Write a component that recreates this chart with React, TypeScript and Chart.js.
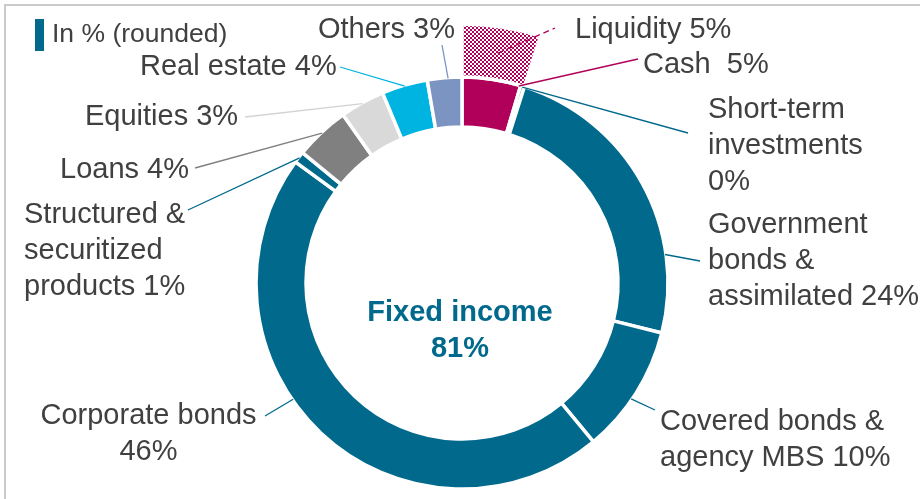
import React, { useEffect, useRef } from 'react';
import { Chart, registerables } from 'chart.js';
Chart.register(...registerables);

// ---------- data ----------
const CATEGORIES = [
  'Cash',
  'Short-term investments',
  'Government bonds & assimilated',
  'Covered bonds & agency MBS',
  'Corporate bonds',
  'Structured & securitized products',
  'Loans',
  'Equities',
  'Real estate',
  'Others',
];
const SHARES = [4.6, 0.3, 24.0, 10.1, 46.0, 0.9, 4.3, 3.5, 3.6, 2.7];
const SHARE_LABELS = ['5%', '0%', '24%', '10%', '46%', '1%', '4%', '3%', '4%', '3%'];
const LIQUIDITY_PARTS = ['Liquidity', ''];
const LIQUIDITY_SHARES = [4.9, 95.1];
const LIQUIDITY_LABEL = '5%';
const CENTER_TITLE = 'Fixed income';
const CENTER_VALUE = '81%';
const UNIT_NOTE = 'In % (rounded)';

// label texts (line broken as in the picture)
const LABEL_LINES: string[][] = [
  ['Cash  ' + SHARE_LABELS[0]],
  ['Short-term', 'investments', SHARE_LABELS[1]],
  ['Government', 'bonds &', 'assimilated ' + SHARE_LABELS[2]],
  ['Covered bonds &', 'agency MBS ' + SHARE_LABELS[3]],
  ['Corporate bonds', SHARE_LABELS[4]],
  ['Structured &', 'securitized', 'products ' + SHARE_LABELS[5]],
  ['Loans ' + SHARE_LABELS[6]],
  ['Equities ' + SHARE_LABELS[7]],
  ['Real estate ' + SHARE_LABELS[8]],
  ['Others ' + SHARE_LABELS[9]],
];

// ---------- styles / layout ----------
const TEAL = '#00698c';
const MAGENTA = '#b0005a';
const SLICE_COLORS = [MAGENTA, TEAL, TEAL, TEAL, TEAL, TEAL, '#808080', '#d9d9d9', '#00b4e1', '#7b94c2'];
const LINE_COLORS = [MAGENTA, TEAL, TEAL, TEAL, TEAL, TEAL, '#7f7f7f', '#d3d3d3', '#00b4e1', '#7b94c2'];
const TEXT_COLOR = '#404040';
const FONT = '"Liberation Sans", Arial, sans-serif';
const FONT_SIZE = 29;
const LINE_H = 36;

const W = 920;
const H = 499;
const CANVAS_H = 600;
const CANVAS_TOP = -17;

// per label: text x, first line y, align, leader end point, anchor fraction within slice
const LABEL_LAYOUT = [
  { x: 643, y: 65, align: 'left', end: [638, 59], frac: 0.97 },
  { x: 708, y: 110, align: 'left', end: [688, 133], frac: 0.5 },
  { x: 708, y: 225, align: 'left', end: [700, 261], frac: 0.745 },
  { x: 660, y: 422, align: 'left', end: [655, 410], frac: 0.56 },
  { x: 148.5, y: 416, align: 'center', end: [265, 416], frac: 0.574 },
  { x: 24, y: 215, align: 'left', end: [188, 210], frac: 0.5 },
  { x: 60, y: 170, align: 'left', end: [195, 168], frac: 0.5 },
  { x: 85, y: 117, align: 'left', end: [245, 117], frac: 0.5 },
  { x: 140, y: 67, align: 'left', end: [340, 67], frac: 0.5 },
  { x: 318, y: 30, align: 'left', end: [442, 45], frac: 0.6 },
];
const LIQ_LAYOUT = { x: 575, y: 30, end: [555, 28] };

function makePattern(): CanvasPattern | string {
  const c = document.createElement('canvas');
  c.width = 4;
  c.height = 4;
  const g = c.getContext('2d');
  if (!g) return MAGENTA;
  g.fillStyle = '#ffffff';
  g.fillRect(0, 0, 4, 4);
  g.fillStyle = MAGENTA;
  g.fillRect(0, 0, 2, 2);
  g.fillRect(2, 2, 2, 2);
  return g.createPattern(c, 'repeat') || MAGENTA;
}

const labelsPlugin = {
  id: 'pieLabels',
  afterDatasetsDraw(chart: any) {
    const ctx: CanvasRenderingContext2D = chart.ctx;
    const arcs = chart.getDatasetMeta(1).data;
    const liq = chart.getDatasetMeta(0).data[0];
    ctx.save();
    ctx.translate(0, -CANVAS_TOP);

    // leader lines
    ctx.lineWidth = 1.3;
    LABEL_LAYOUT.forEach((l, i) => {
      const p = arcs[i].getProps(['x', 'y', 'startAngle', 'endAngle', 'outerRadius'], true);
      const a = p.startAngle + (p.endAngle - p.startAngle) * l.frac;
      const sx = p.x + Math.cos(a) * (p.outerRadius - 1);
      const sy = p.y + Math.sin(a) * (p.outerRadius - 1) + CANVAS_TOP;
      ctx.strokeStyle = LINE_COLORS[i];
      ctx.setLineDash([]);
      ctx.beginPath();
      ctx.moveTo(sx, sy);
      ctx.lineTo(l.end[0], l.end[1]);
      ctx.stroke();
    });
    // liquidity dashed line
    const cp = liq.getCenterPoint(true);
    ctx.strokeStyle = MAGENTA;
    ctx.setLineDash([6, 4]);
    ctx.beginPath();
    ctx.moveTo(cp.x, cp.y + CANVAS_TOP);
    ctx.lineTo(LIQ_LAYOUT.end[0], LIQ_LAYOUT.end[1]);
    ctx.stroke();
    ctx.setLineDash([]);

    // texts
    ctx.fillStyle = TEXT_COLOR;
    ctx.font = `${FONT_SIZE}px ${FONT}`;
    ctx.textBaseline = 'middle';
    LABEL_LAYOUT.forEach((l, i) => {
      ctx.textAlign = l.align as CanvasTextAlign;
      LABEL_LINES[i].forEach((t, k) => ctx.fillText(t, l.x, l.y + k * LINE_H));
    });
    ctx.textAlign = 'left';
    ctx.fillText(LIQUIDITY_PARTS[0] + ' ' + LIQUIDITY_LABEL, LIQ_LAYOUT.x, LIQ_LAYOUT.y);

    // unit note with marker
    ctx.fillStyle = TEAL;
    ctx.fillRect(35, 19, 9, 32);
    ctx.fillStyle = TEXT_COLOR;
    ctx.font = `26.5px ${FONT}`;
    ctx.fillText(UNIT_NOTE, 52, 35);

    // center
    ctx.fillStyle = TEAL;
    ctx.font = `bold 29px ${FONT}`;
    ctx.textAlign = 'center';
    ctx.fillText(CENTER_TITLE, 460, 313);
    ctx.fillText(CENTER_VALUE, 460, 349);
    ctx.restore();
  },
};

export default function App() {
  const ref = useRef<HTMLCanvasElement | null>(null);
  useEffect(() => {
    if (!ref.current) return;
    const pattern = makePattern();
    const chart = new Chart(ref.current, {
      type: 'doughnut',
      data: {
        labels: CATEGORIES,
        datasets: [
          {
            label: 'Liquidity',
            data: LIQUIDITY_SHARES,
            backgroundColor: [pattern as any, 'rgba(0,0,0,0)'],
            borderColor: '#ffffff',
            borderWidth: [3.5, 0],
            weight: 53,
          } as any,
          {
            label: 'Allocation',
            data: SHARES,
            backgroundColor: SLICE_COLORS,
            borderColor: '#ffffff',
            borderWidth: 3.5,
            weight: 50,
          } as any,
        ],
      },
      options: {
        responsive: false,
        animation: false,
        events: [],
        cutout: 156,
        layout: { padding: { top: 39.25, bottom: 39.25, left: 4, right: 0 } },
        plugins: { legend: { display: false }, tooltip: { enabled: false } },
      } as any,
      plugins: [labelsPlugin],
    });
    return () => chart.destroy();
  }, []);

  return (
    <div style={{ position: 'absolute', left: 0, top: 0, width: W, height: H, overflow: 'hidden', background: '#fff' }}>
      <canvas
        ref={ref}
        width={W}
        height={CANVAS_H}
        style={{ position: 'absolute', left: 0, top: CANVAS_TOP, width: W, height: CANVAS_H }}
      />
      <div
        style={{
          position: 'absolute',
          left: 4,
          top: 4,
          width: W,
          height: H,
          borderTop: '2px solid #cacaca',
          borderLeft: '2px solid #cacaca',
          pointerEvents: 'none',
        }}
      />
    </div>
  );
}
